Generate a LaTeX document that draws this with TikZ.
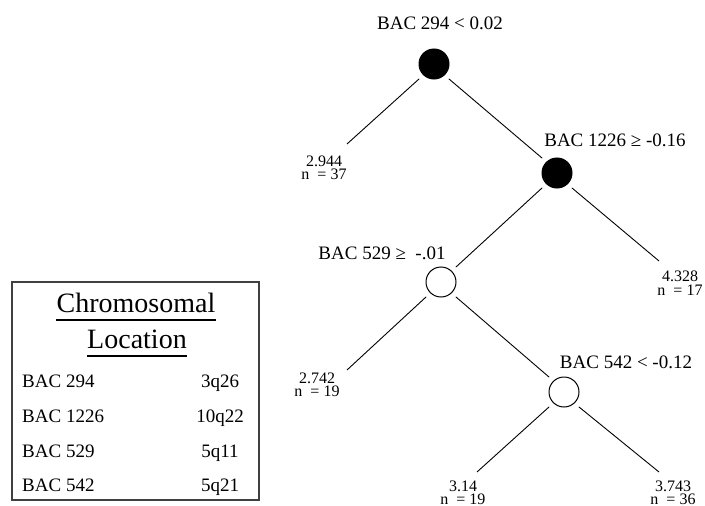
\documentclass[tikz,border=0pt]{standalone}
\usepackage{fontspec}
\setmainfont{Liberation Serif}
\begin{document}
\begin{tikzpicture}[x=1pt,y=-1pt,
  split/.style={circle,draw=black,line width=1pt,minimum size=30pt,inner sep=0pt,outer sep=6pt},
  hit/.style={split,fill=black},
  miss/.style={split,fill=white},
  rule/.style={font=\fontsize{19}{22}\selectfont,inner sep=0pt},
  leaf/.style={font=\fontsize{16}{13.5}\selectfont,align=center,inner sep=0pt},
  branch/.style={line width=0.9pt},
  keytitle/.style={font=\fontsize{28}{32}\selectfont,inner sep=0pt,anchor=base},
  keyrow/.style={font=\fontsize{19}{22}\selectfont,inner sep=0pt,anchor=base west},
  keyloc/.style={font=\fontsize{19}{22}\selectfont,inner sep=0pt,anchor=base}]
\useasboundingbox (0,0) rectangle (705,506);
\fill[white] (0,0) rectangle (705,506);

% splits of the regression tree
\node[hit]  (s294)  at (434,64)  {};
\node[hit]  (s1226) at (557,173) {};
\node[miss] (s529)  at (441,282) {};
\node[miss] (s542)  at (564,392) {};

\node[rule] (r294)  at (440,23)  {BAC 294 < 0.02};
\node[rule] (r1226) at (615,140) {BAC 1226 ≥ -0.16};
\node[rule] (r529)  at (382,253) {BAC 529 ≥\ \ -.01};
\node[rule] (r542)  at (626,362) {BAC 542 < -0.12};

% ends of the terminal branches
\coordinate (e37) at (347,144);
\coordinate (e17) at (659,261);
\coordinate (e19a) at (347,370);
\coordinate (e19b) at (477,472);
\coordinate (e36) at (659,472);

\node[leaf] (l37)  at (324,168) {2.944\\n\ \ = 37};
\node[leaf] (l17)  at (680,283) {4.328\\n\ \ = 17};
\node[leaf] (l19a) at (317,385) {2.742\\n\ \ = 19};
\node[leaf] (l19b) at (463,493) {3.14\\n\ \ = 19};
\node[leaf] (l36)  at (673,493) {3.743\\n\ \ = 36};

\draw[branch] (s294.south west) -- (e37);
\draw[branch] (s294.south east) -- (s1226.north west);
\draw[branch] (s1226.south west) -- (s529.north east);
\draw[branch] (s1226.south east) -- (e17);
\draw[branch] (s529.south west) -- (e19a);
\draw[branch] (s529.south east) -- (s542.north west);
\draw[branch] (s542.south west) -- (e19b);
\draw[branch] (s542.south east) -- (e36);

% key of chromosomal locations
\draw[draw=black!75,line width=1.3pt] (12,282) rectangle (259,500);
\node[keytitle] (kt1) at (136,312) {Chromosomal};
\node[keytitle] (kt2) at (137,348) {Location};
\draw[line width=1.6pt] ([yshift=-8pt]kt1.base west) -- ([yshift=-8pt]kt1.base east);
\draw[line width=1.6pt] ([yshift=-8pt]kt2.base west) -- ([yshift=-8pt]kt2.base east);

\node[keyrow] (k1) at (22,387) {BAC 294};
\node[keyrow] (k2) at (22,422) {BAC 1226};
\node[keyrow] (k3) at (22,457) {BAC 529};
\node[keyrow] (k4) at (22,491) {BAC 542};
\node[keyloc] (c1) at (220,387) {3q26};
\node[keyloc] (c2) at (220,422) {10q22};
\node[keyloc] (c3) at (220,457) {5q11};
\node[keyloc] (c4) at (220,491) {5q21};
\end{tikzpicture}
\end{document}
